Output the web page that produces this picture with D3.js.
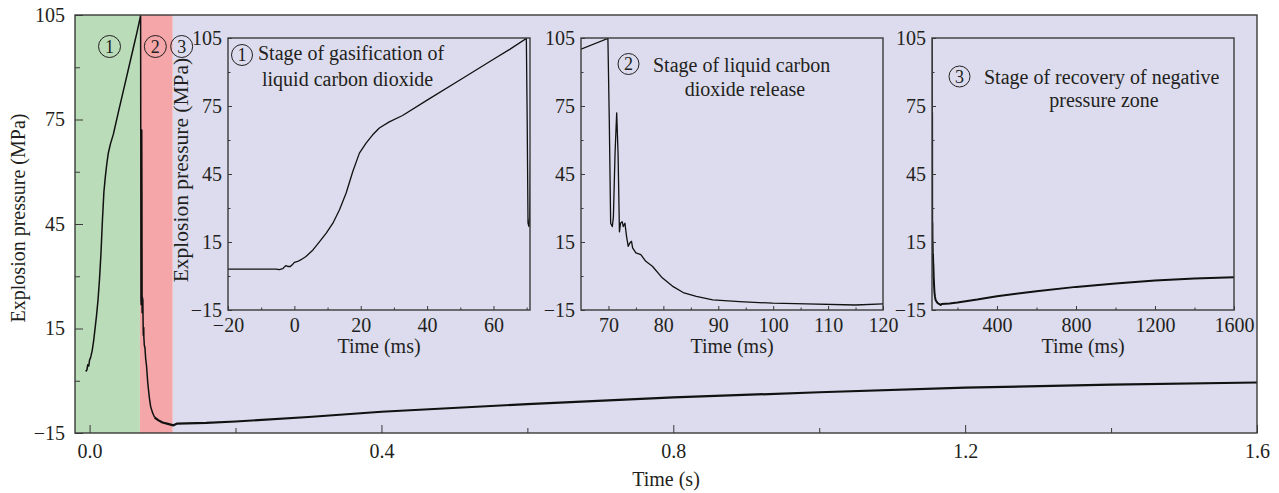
<!DOCTYPE html>
<html>
<head>
<meta charset="utf-8">
<script src="https://d3js.org/d3.v7.min.js"></script>
<style>
	body { margin: 0; background: #fff; }
	svg text { font-family: "Liberation Serif", "DejaVu Serif", serif; fill: #231f20; }
	.frame { fill: none; stroke: #3a3a3a; stroke-width: 1.4; }
	.trace { fill: none; stroke: #111; stroke-linejoin: round; }
</style>
</head>
<body>
<svg id="chart" width="1279" height="493"></svg>
<script>

// stage 1 : gasification of liquid CO2 (time in ms, pressure in MPa)
var stage1Time     = [-20, -5.5, -4.5, -3.5, -3, -2.5, -2, -1.2, -0.5, 0, 1, 2, 3.5, 5.6, 7.6, 9.6, 11.6, 13.6, 15.6, 17.6, 19.6, 21.6, 23.6, 25.6, 28.6, 32.6, 40, 50, 60, 65, 69.9];
var stage1Pressure = [3, 3, 2.8, 3.2, 4, 4.6, 4.2, 4.2, 5.2, 6, 6.4, 7.2, 8.6, 11.5, 15.2, 18.9, 23.3, 29.2, 36.6, 46.1, 54.2, 58.6, 62.3, 65.3, 68, 70.8, 77.6, 86.6, 95.6, 100.1, 104.8];

// stage 2 : liquid CO2 release
var stage2Time     = [70.15, 70.4, 70.7, 70.9, 71.2, 71.5, 71.75, 72.0, 72.2, 72.5, 72.7, 73.0, 73.3, 73.6, 73.9, 74.2, 74.4, 75.0, 75.9, 76.8, 78.0, 79.8, 81.8, 83.6, 86, 89, 93.9, 99.9, 106, 115, 120];
var stage2Pressure = [69, 23.3, 21.8, 26, 54, 72, 54, 19.5, 23.3, 24, 21.8, 23.3, 17.4, 13.1, 14.6, 15.3, 12.4, 10.2, 9.4, 6.5, 4.3, -0.8, -4.7, -7.3, -9, -10.5, -11.3, -12, -12.3, -12.8, -12.3];

// stage 3 : recovery of negative pressure zone
var stage3Time     = [160, 200, 300, 400, 600, 800, 1000, 1200, 1400, 1600];
var stage3Pressure = [-12.1, -11.7, -10.4, -8.9, -6.7, -4.8, -3.3, -2.0, -1.1, -0.5];

// main chart (time in s)
var mainDomain = [-0.02, 1.6];
var mainStart = -0.006;
var stageEdges = [-0.02, 0.069, 0.114, 1.6];
var stageMarkTime = [0.0273, 0.0901, 0.1262];
var stageNames = ["1", "2", "3"];
var pressureDomain = [-15, 105];
var pressureTicks = [-15, 15, 45, 75, 105];
var pressureMinor = [0, 30, 60, 90];
var mainTicks = [0, 0.4, 0.8, 1.2, 1.6];
var mainMinor = [0.2, 0.6, 1.0, 1.4];

// insets (time in ms)
var insetDomains = [[-20, 71], [65, 120], [71, 1600]];
var insetTicks = [[-20, 0, 20, 40, 60], [70, 80, 90, 100, 110, 120], [400, 800, 1200, 1600]];
var insetMinor = [[-10, 10, 30, 50, 70], [75, 85, 95, 105, 115], [200, 600, 1000, 1400]];
var insetTitles = [
	["Stage of gasification of", "liquid carbon dioxide"],
	["Stage of liquid carbon", "dioxide release"],
	["Stage of recovery of negative", "pressure zone"]
];

var stageColors = ["#badcb9", "#f5a6a8", "#dcdcee"];

var series = [];
[[stage1Time, stage1Pressure], [stage2Time, stage2Pressure], [stage3Time, stage3Pressure]].forEach(function(s) {
	s[0].forEach(function(t, i) { series.push({t: t, p: s[1][i]}); });
});

var svg = d3.select("#chart");
var defs = svg.append("defs");

function styleAxis(g, size) {
	g.attr("font-family", null).attr("font-size", null).attr("color", "#3a3a3a");
	g.selectAll("text").style("font-size", size + "px").attr("fill", "#231f20");
	g.select(".domain").remove();
}

function circledNumber(g, x, y, r, label) {
	var c = g.append("g").attr("transform", "translate(" + x + "," + y + ")");
	c.append("circle").attr("r", r).attr("fill", "none").attr("stroke", "#231f20").attr("stroke-width", 1);
	c.append("text").attr("text-anchor", "middle").attr("dy", "0.35em")
		.style("font-size", "18px").text(label);
}

// ---------- main chart ----------
var M = {left: 75, right: 1257, top: 15, bottom: 433};
var x = d3.scaleLinear().domain(mainDomain).range([M.left, M.right]);
var y = d3.scaleLinear().domain(pressureDomain).range([M.bottom, M.top]);

svg.selectAll("rect.band")
	.data(d3.range(stageEdges.length - 1))
	.enter().append("rect")
	.attr("class", "band")
	.attr("x", function(i) { return x(stageEdges[i]); })
	.attr("y", M.top)
	.attr("width", function(i) { return x(stageEdges[i + 1]) - x(stageEdges[i]); })
	.attr("height", M.bottom - M.top)
	.attr("fill", function(i) { return stageColors[i]; });

defs.append("clipPath").attr("id", "clip-main").append("rect")
	.attr("x", M.left).attr("y", M.top).attr("width", M.right - M.left).attr("height", M.bottom - M.top);

var mainLine = d3.line().x(function(d) { return x(d.t / 1000); }).y(function(d) { return y(d.p); });
var mainData = series.filter(function(d) { return d.t / 1000 >= mainStart; });
svg.append("path")
	.datum(mainData.filter(function(d) { return d.t <= 90; }))
	.attr("class", "trace")
	.attr("clip-path", "url(#clip-main)")
	.attr("stroke-width", 1.5)
	.attr("d", mainLine);
// noisy tail is drawn a bit heavier
svg.append("path")
	.datum(mainData.filter(function(d) { return d.t >= 89; }))
	.attr("class", "trace")
	.attr("clip-path", "url(#clip-main)")
	.attr("stroke-width", 2.2)
	.attr("d", mainLine);

var gy = svg.append("g").attr("transform", "translate(" + M.left + ",0)")
	.call(d3.axisLeft(y).tickValues(pressureTicks).tickSize(-8).tickPadding(10).tickFormat(d3.format("d")));
styleAxis(gy, 20);
var gym = svg.append("g").attr("transform", "translate(" + M.left + ",0)")
	.call(d3.axisLeft(y).tickValues(pressureMinor).tickSize(-5).tickFormat(""));
styleAxis(gym, 20);

var gx = svg.append("g").attr("transform", "translate(0," + M.bottom + ")")
	.call(d3.axisBottom(x).tickValues(mainTicks).tickSize(-8).tickPadding(11).tickFormat(d3.format(".1f")));
styleAxis(gx, 20);
var gxm = svg.append("g").attr("transform", "translate(0," + M.bottom + ")")
	.call(d3.axisBottom(x).tickValues(mainMinor).tickSize(-5).tickFormat(""));
styleAxis(gxm, 20);

svg.append("rect").attr("class", "frame")
	.attr("x", M.left).attr("y", M.top).attr("width", M.right - M.left).attr("height", M.bottom - M.top);

svg.append("text").attr("text-anchor", "middle")
	.attr("transform", "translate(25,218) rotate(-90)")
	.style("font-size", "20px").text("Explosion pressure (MPa)");
svg.append("text").attr("text-anchor", "middle")
	.attr("x", (M.left + M.right) / 2).attr("y", 486)
	.style("font-size", "20px").text("Time (s)");

stageMarkTime.forEach(function(t, i) { circledNumber(svg, x(t), 46.5, 11, stageNames[i]); });

// ---------- insets ----------
var insetLeft = [228, 581, 932];
var insetW = 302, insetTop = 38, insetH = 272;
var titlePos = [
	{cx: 242, cy: 55, tx: 258, ty: 60, l2x: 262, l2y: 85.5, anchor2: "start"},
	{cx: 628.5, cy: 64, tx: 653, ty: 71.5, l2x: 745, l2y: 96, anchor2: "middle"},
	{cx: 959.5, cy: 76.5, tx: 984, ty: 83.5, l2x: 1104, l2y: 107, anchor2: "middle"}
];

insetDomains.forEach(function(dom, k) {
	var L = insetLeft[k];
	var ix = d3.scaleLinear().domain(dom).range([L, L + insetW]);
	var iy = d3.scaleLinear().domain(pressureDomain).range([insetTop + insetH, insetTop]);

	defs.append("clipPath").attr("id", "clip-" + k).append("rect")
		.attr("x", L).attr("y", insetTop).attr("width", insetW).attr("height", insetH);

	svg.append("path")
		.datum(series)
		.attr("class", "trace")
		.attr("clip-path", "url(#clip-" + k + ")")
		.attr("stroke-width", k == 2 ? 2 : 1.3)
		.attr("d", d3.line().x(function(d) { return ix(d.t); }).y(function(d) { return iy(d.p); }));

	var ay = svg.append("g").attr("transform", "translate(" + L + ",0)")
		.call(d3.axisLeft(iy).tickValues(pressureTicks).tickSize(-4).tickPadding(6).tickFormat(d3.format("d")));
	styleAxis(ay, 20);
	var aym = svg.append("g").attr("transform", "translate(" + L + ",0)")
		.call(d3.axisLeft(iy).tickValues(pressureMinor).tickSize(-2.5).tickFormat(""));
	styleAxis(aym, 20);

	var ax = svg.append("g").attr("transform", "translate(0," + (insetTop + insetH) + ")")
		.call(d3.axisBottom(ix).tickValues(insetTicks[k]).tickSize(-4).tickPadding(8).tickFormat(d3.format("d")));
	styleAxis(ax, 20);
	var axm = svg.append("g").attr("transform", "translate(0," + (insetTop + insetH) + ")")
		.call(d3.axisBottom(ix).tickValues(insetMinor[k]).tickSize(-2.5).tickFormat(""));
	styleAxis(axm, 20);

	svg.append("rect").attr("class", "frame")
		.attr("x", L).attr("y", insetTop).attr("width", insetW).attr("height", insetH);

	svg.append("text").attr("text-anchor", "middle")
		.attr("x", L + insetW / 2).attr("y", 353)
		.style("font-size", "20px").text("Time (ms)");

	var tp = titlePos[k];
	circledNumber(svg, tp.cx, tp.cy, 10.5, stageNames[k]);
	svg.append("text").attr("x", tp.tx).attr("y", tp.ty).style("font-size", "20px").text(insetTitles[k][0]);
	svg.append("text").attr("x", tp.l2x).attr("y", tp.l2y).attr("text-anchor", tp.anchor2)
		.style("font-size", "20px").text(insetTitles[k][1]);
});

svg.append("text").attr("text-anchor", "middle")
	.attr("transform", "translate(188,170) rotate(-90)")
	.style("font-size", "21.5px").text("Explosion pressure (MPa)");

</script>
</body>
</html>
